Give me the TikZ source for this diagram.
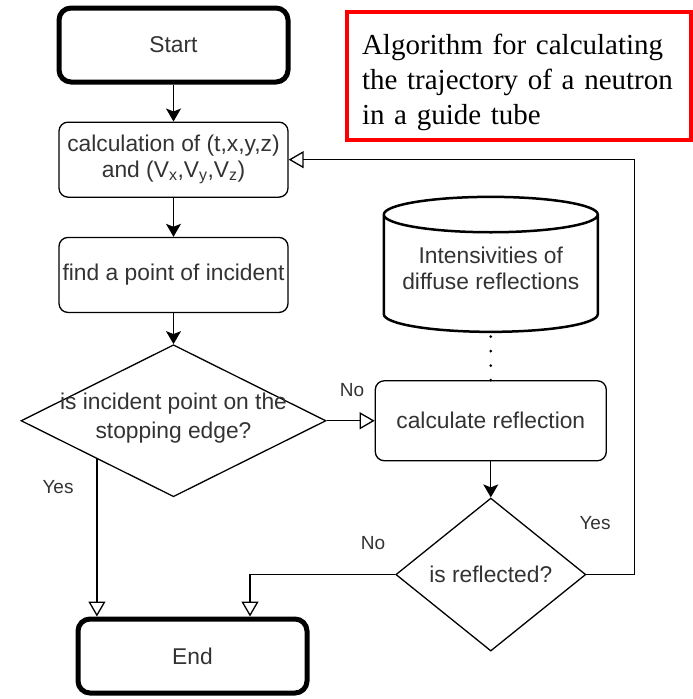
\documentclass[tikz,border=0pt]{standalone}
\usepackage{fontspec}
\setmainfont{Liberation Sans}
\newfontfamily\notefont{Liberation Serif}
\usepackage{tikz}
\usetikzlibrary{shapes.geometric, arrows.meta, positioning, calc}

\begin{document}
\begin{tikzpicture}[
    x=1pt, y=1pt,
    font=\fontsize{22.8}{26}\selectfont,
    text=black!80,
    block/.style={rectangle, draw, line width=1.3pt, rounded corners=9pt, minimum width=229pt, minimum height=75pt, align=center, inner sep=2pt},
    terminal/.style={rectangle, draw, line width=5pt, rounded corners=12pt, minimum width=229pt, minimum height=74pt, align=center},
    decision/.style={diamond, draw, line width=1.3pt, inner sep=0pt, align=center},
    database/.style={cylinder, shape border rotate=90, draw, line width=2.5pt, aspect=0.2, minimum width=214pt, minimum height=135pt, align=center, inner sep=0pt},
    note/.style={rectangle, draw=red, line width=4pt, minimum width=344pt, minimum height=128pt, text width=314pt, inner xsep=15pt, align=left, text=black, font=\notefont\fontsize{29}{35}\selectfont},
    lbl/.style={font=\fontsize{19}{22}\selectfont},
    arrow/.style={line width=1.3pt, -{Stealth[length=13pt, width=15pt, inset=3pt]}},
    openarrow/.style={line width=1.3pt, -{Triangle[open, length=15pt, width=17pt]}},
    dotline/.style={line width=3pt, line cap=round, dash pattern=on 0pt off 14.5pt},
]
    \useasboundingbox (0,0) rectangle (693,-699);

    \node[terminal] (start) at (173.5,-45) {Start};
    \node[block, below=37pt of start] (calc) {calculation of (t,x,y,z)\\and (V\textsubscript{x},V\textsubscript{y},V\textsubscript{z})};
    \node[block, below=39pt of calc] (find) {find a point of incident};
    \node[decision, minimum width=305pt, minimum height=152pt, below=31pt of find] (dec1) {};
    \node[align=center, font=\fontsize{22.8}{29}\selectfont] (dec1text) at ([yshift=3pt]dec1.center) {is incident point on the\\stopping edge?};
    \node[terminal] (end) at (192.5,-656) {End};

    \node[block, right=48pt of dec1, minimum width=231pt, minimum height=80pt] (crefl) {calculate reflection};
    \node[database, above=47pt of crefl] (db) {Intensivities of\\diffuse reflections\rule[-12pt]{0pt}{12pt}};
    \node[decision, minimum width=190pt, minimum height=153pt, below=36pt of crefl] (dec2) {is reflected?};

    \node[note, anchor=north west] (title) at (345,-10) {\rule{0pt}{34pt}Algorithm for calculating\\the trajectory of a neutron\\in a guide tube};

    \node[lbl] (no1) at (352,-390) {No};
    \node[lbl] (yes1) at (58,-487) {Yes};
    \node[lbl] (no2) at (373,-543) {No};
    \node[lbl] (yes2) at (595,-523) {Yes};

    \draw[arrow] (start) -- (calc);
    \draw[arrow] (calc) -- (find);
    \draw[arrow] (find) -- (dec1);
    \draw[arrow] (crefl) -- (dec2);
    \draw[openarrow] (dec1) -- (crefl);
    \draw[dotline] (crefl.north) -- (db.south);
    \draw[openarrow] (dec1.south west) -- (dec1.south west |- end.north);
    \draw[openarrow] (dec2.west) -| ([xshift=57.5pt]end.north);
    \draw[openarrow] (dec2.east) -- ++(48,0) |- (calc.east);
\end{tikzpicture}
\end{document}
